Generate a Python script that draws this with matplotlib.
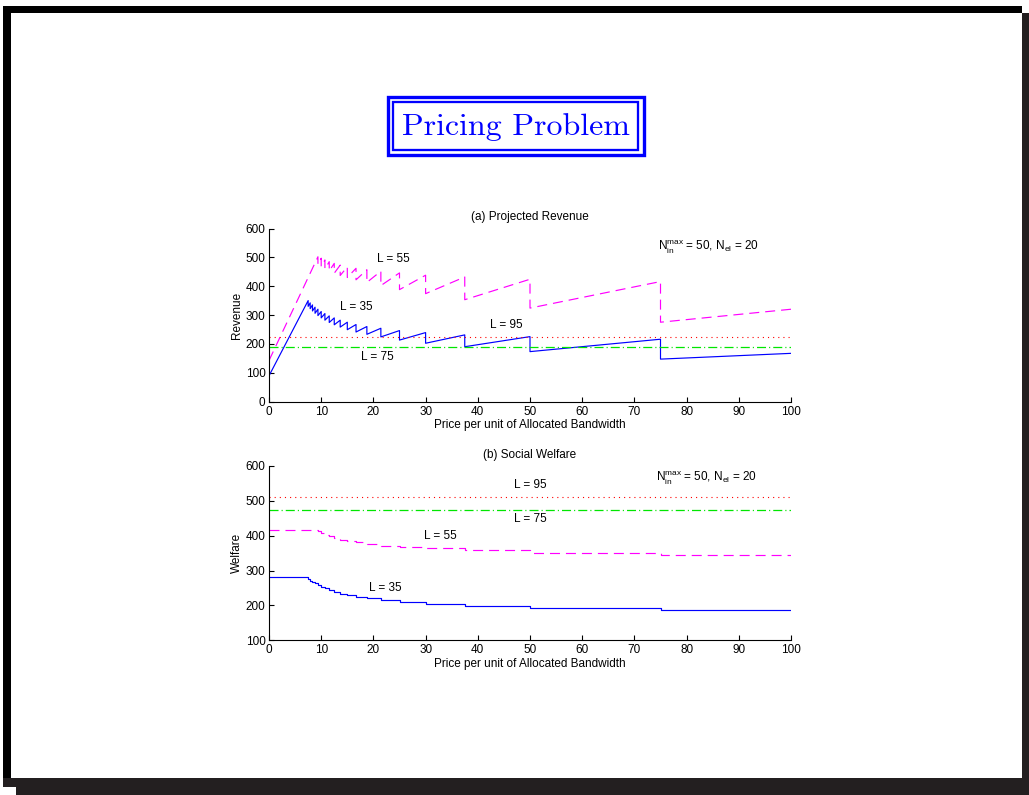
import matplotlib
matplotlib.use('Agg')
import matplotlib.pyplot as plt
from matplotlib.patches import Rectangle

plt.rcParams['font.family'] = ['Liberation Sans', 'DejaVu Sans']
plt.rcParams['mathtext.fontset'] = 'custom'
plt.rcParams['mathtext.rm'] = 'Liberation Sans'
plt.rcParams['mathtext.it'] = 'Liberation Sans:italic'
plt.rcParams['lines.scale_dashes'] = False

# ---------------- data ----------------
# (a) projected revenue, L = 35 (sawtooth: value just before / just after each break)
rev35_x = [0, 7.5, 7.89, 8.33, 8.82, 9.375, 10, 10.71, 11.54, 12.5, 13.64, 15, 16.67,
           18.75, 21.43, 25, 30, 37.5, 50, 75, 100]
rev35_top = [89, 350, 342, 335, 327, 320, 312, 305, 297, 290, 282, 275, 267,
             260, 254, 246, 239, 231, 225, 216, 167]
rev35_bot = [89, 330, 322, 314, 306, 298, 290, 282, 274, 266, 258, 249, 241,
             233, 224, 213, 202, 190, 173, 147, 167]

# (a) projected revenue, L = 55
rev55_x = [0, 9.375, 10, 10.71, 11.54, 12.5, 13.64, 15, 16.67, 18.75, 21.43, 25, 30,
           37.5, 50, 75, 100]
rev55_top = [142, 502, 497, 491, 485, 479, 473, 467, 462, 457, 452, 446, 438,
             432, 424, 416, 320]
rev55_bot = [142, 475, 468, 460, 453, 445, 437, 430, 422, 413, 402, 388, 374,
             353, 324, 275, 320]

rev75 = 188
rev95 = 225

# (b) social welfare (step values starting at each x)
wel35_x = [0, 7.5, 7.89, 8.33, 8.82, 9.375, 10, 10.71, 11.54, 12.5, 13.64, 15, 16.67,
           18.75, 21.43, 25, 30, 37.5, 50, 75, 100]
wel35 = [281, 276, 271, 267, 263, 259, 254, 249, 244, 239, 234, 230, 225,
         220, 215, 210, 205, 199, 192, 186, 186]

wel55_x = [0, 9.375, 10, 10.71, 11.54, 12.5, 13.64, 15, 16.67, 18.75, 21.43, 25, 30,
           37.5, 50, 75, 100]
wel55 = [416, 413, 409, 403, 398, 393, 389, 385, 381, 376, 371, 367, 364,
         358, 350, 345, 345]

wel75 = 475
wel95 = 510

x_range = [0, 100]
xticks = [0, 10, 20, 30, 40, 50, 60, 70, 80, 90, 100]
rev_yticks = [0, 100, 200, 300, 400, 500, 600]
wel_yticks = [100, 200, 300, 400, 500, 600]

# ---------------- figure ----------------
W, H = 1029, 795
fig = plt.figure(figsize=(W / 100, H / 100), dpi=100)

bg = fig.add_axes([0, 0, 1, 1])
bg.set_xlim(0, W)
bg.set_ylim(H, 0)
bg.axis('off')
# slide frame
bg.add_patch(Rectangle((3, 6), 1019, 7, color='black', lw=0))
bg.add_patch(Rectangle((3, 6), 8, 772, color='black', lw=0))
bg.add_patch(Rectangle((1022, 13), 7, 782, color='#231f20', lw=0))
bg.add_patch(Rectangle((3, 778), 1026, 9, color='#231f20', lw=0))
bg.add_patch(Rectangle((16, 787), 1013, 8, color='#231f20', lw=0))
# title box
bg.add_patch(Rectangle((387.7, 96.7), 644 - 387.7, 155 - 96.7, fill=False,
                       edgecolor='#0000ff', lw=2.4))
bg.add_patch(Rectangle((392.8, 102.2), 637.8 - 392.8, 149.5 - 102.2, fill=False,
                       edgecolor='#0000ff', lw=1.65))
bg.text(516, 135, 'Pricing Problem', family='cmr10', fontsize=23, color='#0000ff',
        ha='center', va='baseline')

DASH = (0, (7.2, 4.3))
DASHDOT = (0, (6.5, 2.2, 0.8, 2.2))
DOT = (0, (0.8, 2.9))
FS = 8.5


def style(ax, yticks, ylim):
    ax.set_xlim(x_range)
    ax.set_ylim(ylim)
    ax.set_xticks(xticks)
    ax.set_yticks(yticks)
    ax.spines['top'].set_visible(False)
    ax.spines['right'].set_visible(False)
    for s in ('left', 'bottom'):
        ax.spines[s].set_linewidth(0.8)
    ax.tick_params(axis='both', direction='in', length=3.5, width=0.8, labelsize=FS)
    ax.tick_params(axis='x', pad=3.0)
    ax.tick_params(axis='y', pad=2.5)
    ax.set_facecolor('none')
    ax.set_xlabel('Price per unit of Allocated Bandwidth', fontsize=FS, labelpad=1.0)


def saw(xs, tops, bots):
    px, py = [], []
    for x, t, b in zip(xs, tops, bots):
        px += [x, x]
        py += [t, b]
    return px, py


# (a)
ax1 = fig.add_axes([269 / W, 1 - 401.5 / H, 522 / W, 173 / H])
style(ax1, rev_yticks, (0, 600))
px, py = saw(rev55_x, rev55_top, rev55_bot)
ax1.plot(px, py, color='#ff00ff', lw=0.85, linestyle=DASH)
px, py = saw(rev35_x, rev35_top, rev35_bot)
ax1.plot(px, py, color='#0000ff', lw=0.85)
ax1.plot(x_range, [rev95, rev95], color='#ff0000', lw=0.8, linestyle=DOT)
ax1.plot(x_range, [rev75, rev75], color='#00e600', lw=0.9, linestyle=DASHDOT)
ax1.set_title('(a) Projected Revenue', fontsize=FS, pad=6)
ax1.set_ylabel('Revenue', fontsize=FS, labelpad=2)
ax1.text(23.8, 495, 'L = 55', fontsize=FS, ha='center', va='center')
ax1.text(16.7, 328, 'L = 35', fontsize=FS, ha='center', va='center')
ax1.text(45.4, 266, 'L = 95', fontsize=FS, ha='center', va='center')
ax1.text(20.7, 155, 'L = 75', fontsize=FS, ha='center', va='center')
ax1.text(74.5, 536, r'N$_{\rm in}^{\rm max}$ = 50, N$_{\rm el}$ = 20', fontsize=FS,
         ha='left', va='center')

# (b)
ax2 = fig.add_axes([269 / W, 1 - 640.3 / H, 522 / W, 174.3 / H])
style(ax2, wel_yticks, (100, 600))
ax2.plot(x_range, [wel95, wel95], color='#ff0000', lw=0.8, linestyle=DOT)
ax2.plot(x_range, [wel75, wel75], color='#00e600', lw=0.9, linestyle=DASHDOT)
ax2.plot(wel55_x, wel55, color='#ff00ff', lw=0.85, linestyle=DASH, drawstyle='steps-post')
ax2.plot(wel35_x, wel35, color='#0000ff', lw=0.85, drawstyle='steps-post')
ax2.set_title('(b) Social Welfare', fontsize=FS, pad=6)
ax2.set_ylabel('Welfare', fontsize=FS, labelpad=2)
ax2.text(50, 545, 'L = 95', fontsize=FS, ha='center', va='center')
ax2.text(50, 448, 'L = 75', fontsize=FS, ha='center', va='center')
ax2.text(32.8, 399, 'L = 55', fontsize=FS, ha='center', va='center')
ax2.text(22.2, 250, 'L = 35', fontsize=FS, ha='center', va='center')
ax2.text(74.1, 565, r'N$_{\rm in}^{\rm max}$ = 50, N$_{\rm el}$ = 20', fontsize=FS,
         ha='left', va='center')

fig.savefig('out.png', dpi=100)
